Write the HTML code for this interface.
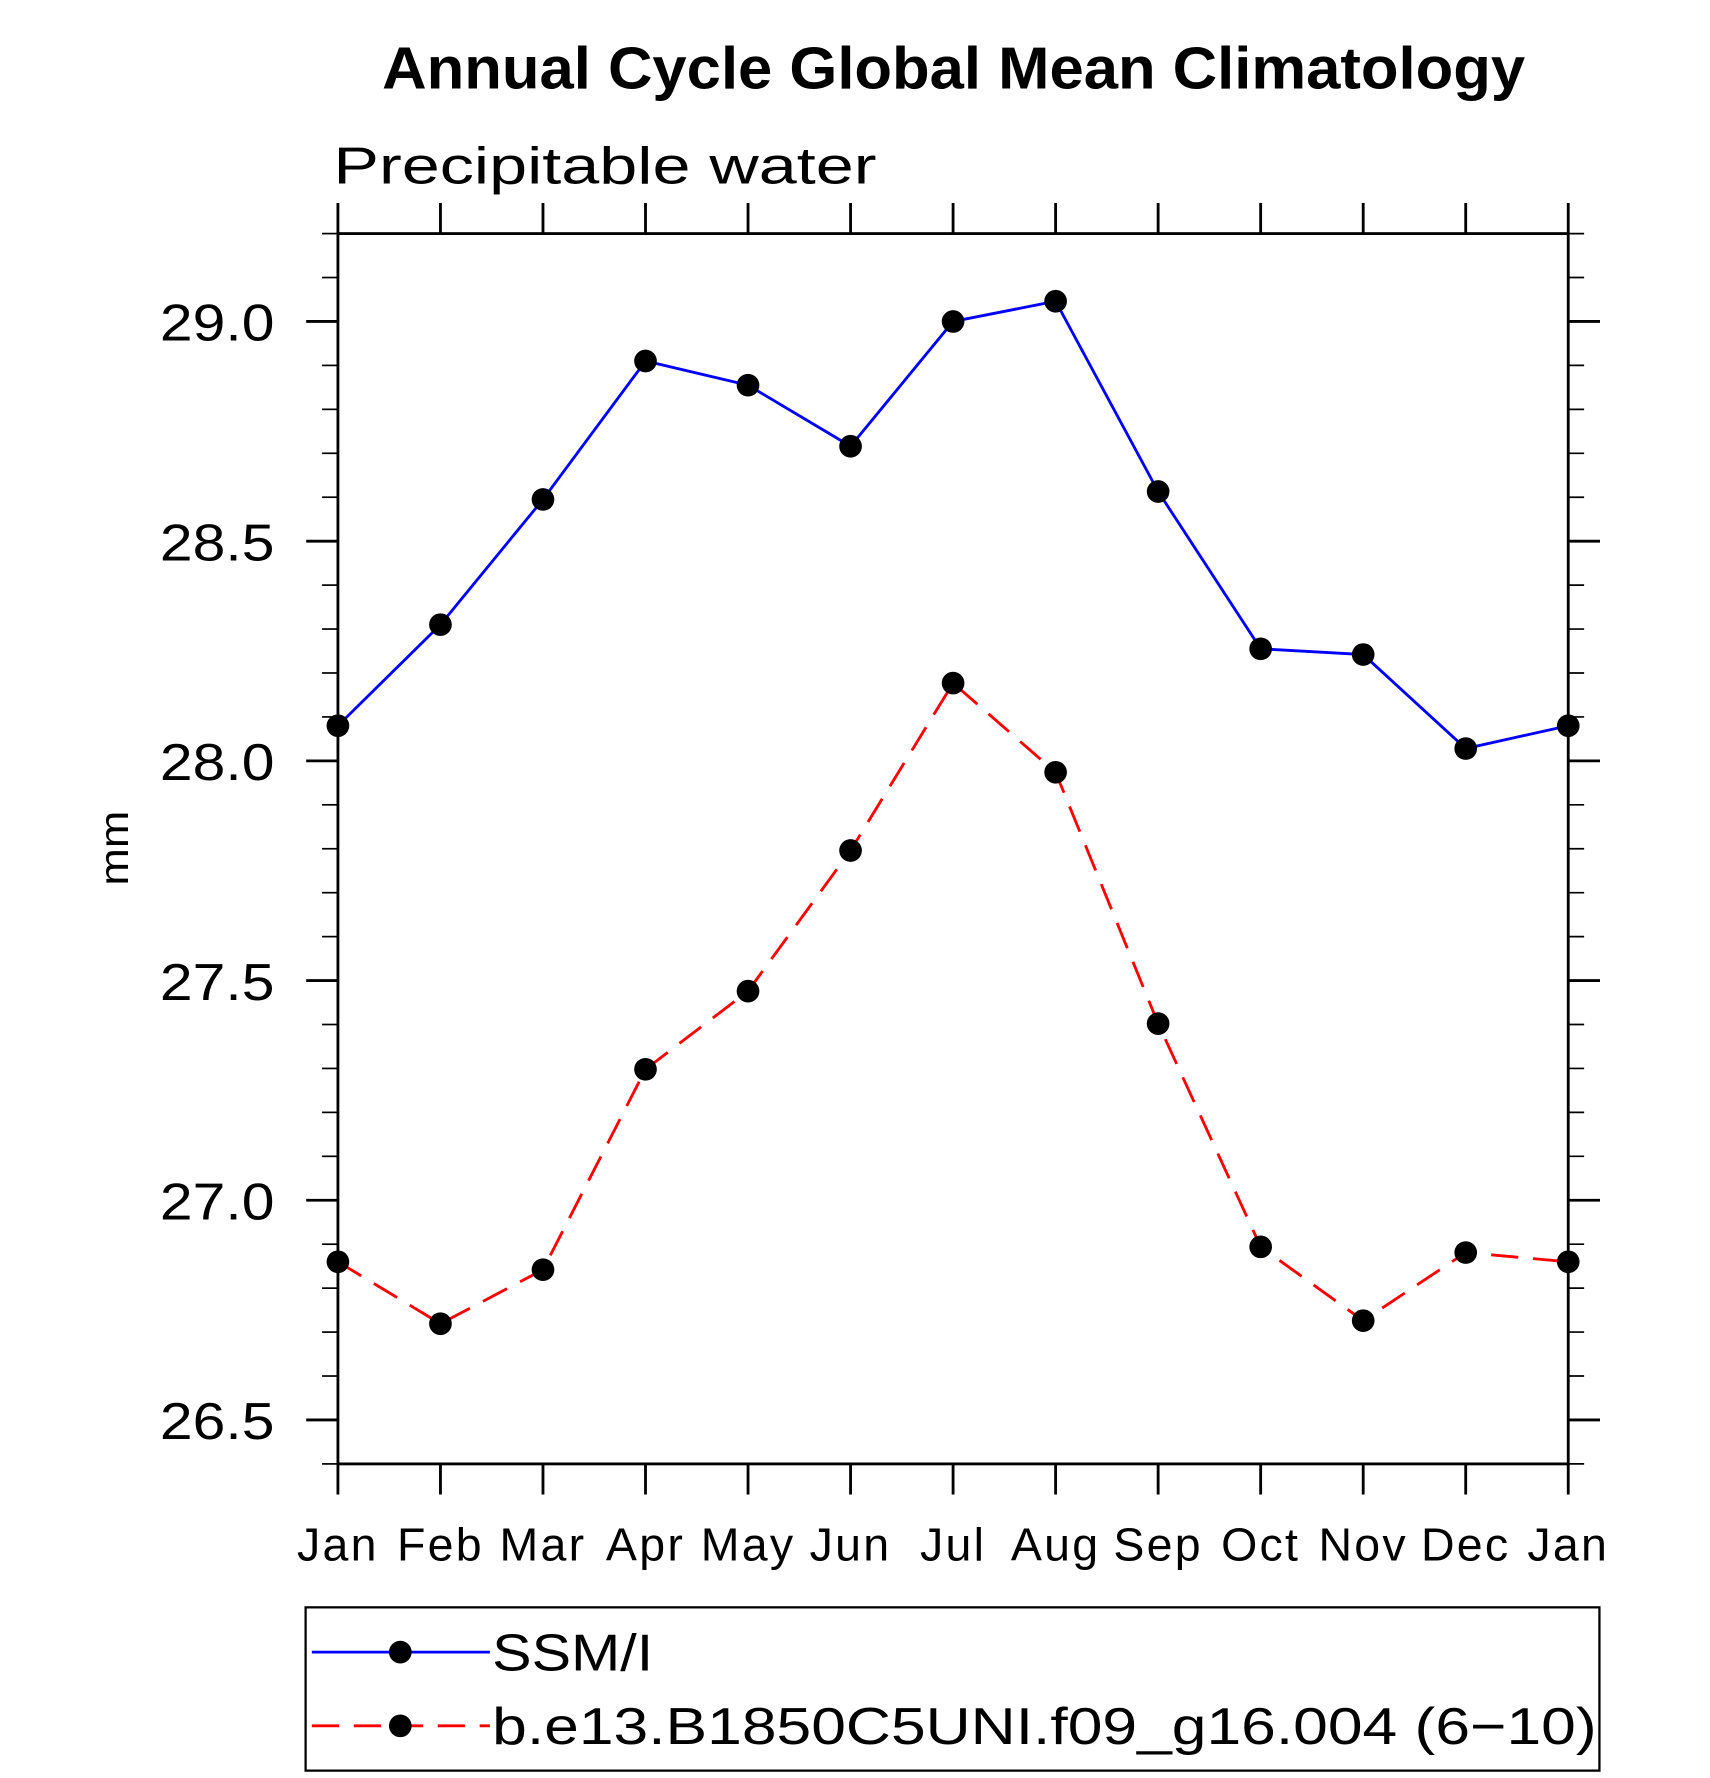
<!DOCTYPE html>
<html><head><meta charset="utf-8"><style>
html,body{margin:0;padding:0;background:#fff;}
svg{display:block;}
text{font-family:"Liberation Sans",sans-serif;}
</style></head><body>
<svg id="chart" width="1710" height="1778" viewBox="0 0 1508 1568" xmlns="http://www.w3.org/2000/svg">
<text x="841" y="78" text-anchor="middle" font-size="52" font-weight="bold" textLength="1008" lengthAdjust="spacingAndGlyphs">Annual Cycle Global Mean Climatology</text>
<text x="294" y="162" font-size="46" textLength="479" lengthAdjust="spacingAndGlyphs">Precipitable water</text>
<text transform="translate(113,748) rotate(-90)" text-anchor="middle" font-size="36" textLength="66" lengthAdjust="spacingAndGlyphs">mm</text>
<g id="axes"></g>
<g id="series"></g>
<g>
<rect x="269.5" y="1417.5" width="1141" height="144" fill="none" stroke="#000" stroke-width="2"/>
<line x1="275" y1="1457" x2="432" y2="1457" stroke="#0000ff" stroke-width="2.5"/>
<circle cx="353" cy="1457" r="10"/>
<text x="434" y="1473" font-size="46" textLength="142" lengthAdjust="spacingAndGlyphs">SSM/I</text>
<line x1="275" y1="1522" x2="432" y2="1522" stroke="#ff0000" stroke-width="2.5" stroke-dasharray="24,13"/>
<circle cx="353" cy="1522" r="10"/>
<text x="434" y="1538" font-size="46" textLength="974" lengthAdjust="spacingAndGlyphs">b.e13.B1850C5UNI.f09_g16.004 (6−10)</text>
</g>
</svg>
<script>
const months = ["Jan","Feb","Mar","Apr","May","Jun","Jul","Aug","Sep","Oct","Nov","Dec","Jan"];
const ssmi = [28.08,28.31,28.595,28.91,28.855,28.716,29.0,29.046,28.613,28.255,28.242,28.028,28.08];
const model = [26.86,26.719,26.842,27.298,27.476,27.796,28.177,27.974,27.402,26.894,26.726,26.881,26.86];
const yTickLabels = ["26.5","27.0","27.5","28.0","28.5","29.0"];

const NS="http://www.w3.org/2000/svg";
const L=298,R=1383,T=206,B=1291,YMIN=26.4,YMAX=29.2;
function xs(i){return L+(R-L)*i/(months.length-1);}
function ys(v){return B-(v-YMIN)/(YMAX-YMIN)*(B-T);}
function mk(tag,attrs,parent){const e=document.createElementNS(NS,tag);for(const k in attrs)e.setAttribute(k,attrs[k]);parent.appendChild(e);return e;}
const ax=document.getElementById('axes');
let el=mk('rect',{x:L,y:T,width:R-L,height:B-T,fill:'none',stroke:'#000','stroke-width':2.5},ax);


for(let k=0;k<=28;k++){
  const v=YMIN+k*0.1;const y=ys(v);
  const major=(k%5===1);
  const len=major?28:14;
  el=mk('line',{x1:L-len,x2:L,y1:y,y2:y,stroke:'#000','stroke-width':major?2.5:1.5},ax);
  
  
  el=mk('line',{x1:R,x2:R+len,y1:y,y2:y,stroke:'#000','stroke-width':major?2.5:1.5},ax);
  
  
}
yTickLabels.forEach(t=>{
  const y=ys(parseFloat(t));
  const tx=mk('text',{x:141,y:y+17,'font-size':46,textLength:101,lengthAdjust:'spacingAndGlyphs'},ax);
  tx.textContent=t;
  
  
});
months.forEach((m,i)=>{
  const x=xs(i);
  el=mk('line',{x1:x,x2:x,y1:B,y2:B+27,stroke:'#000','stroke-width':2.5},ax);
  
  
  el=mk('line',{x1:x,x2:x,y1:T-27,y2:T,stroke:'#000','stroke-width':2.5},ax);
  
  
  const tx=mk('text',{x:x,y:1376,'text-anchor':'middle','font-size':41,'letter-spacing':2},ax);
  tx.textContent=m;
  
  
});
const sg=document.getElementById('series');
function drawSeries(vals,color,dash,name){
  const pts=vals.map((v,i)=>xs(i)+','+ys(v)).join(' ');
  const pl=mk('polyline',{points:pts,fill:'none',stroke:color,'stroke-width':2.5},sg);
  if(dash)pl.setAttribute('stroke-dasharray',dash);
  
  
  vals.forEach((v,i)=>{
    const c=mk('circle',{cx:xs(i),cy:ys(v),r:10,fill:'#000'},sg);
    
    
  });
}
drawSeries(ssmi,'#0000ff',null,'ssmi');
drawSeries(model,'#ff0000','24,13','model');
</script>
</body></html>
